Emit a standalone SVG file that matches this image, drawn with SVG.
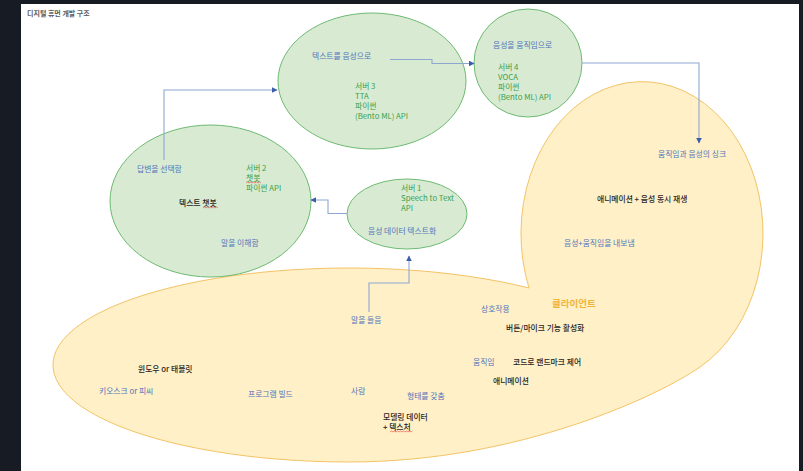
<svg xmlns="http://www.w3.org/2000/svg" width="803" height="471" viewBox="0 0 803 471">
  <defs>
    <style>
      text { font-family: "Noto Sans CJK KR", "Noto Sans", "Liberation Sans", sans-serif; font-size: 7.8px; }
      .blue { fill: #5174b9; }
      .green { fill: #38a14a; }
      .black { fill: #1f1f1f; font-weight: 500; }
      .title { fill: #5a5a5a; font-weight: 700; font-size: 7px; }
      .client { fill: #f0b43a; font-weight: 700; font-size: 9.5px; }
      .gnode { fill: #d9ead3; stroke: #6dbb72; stroke-width: 1; }
      .onode { fill: #fff0c8; stroke: #f3c366; stroke-width: 1; }
      .conn { fill: none; stroke: #8ea6d2; stroke-width: 1.1; }
      .squig { fill: none; stroke: #e04040; stroke-width: 0.6; }
    </style>
    <marker id="arr" viewBox="0 0 10 10" refX="9" refY="5" markerWidth="6" markerHeight="6" markerUnits="userSpaceOnUse" orient="auto">
      <path d="M0,0 L10,5 L0,10 z" fill="#3b5daa"/>
    </marker>
  </defs>

  <rect x="0" y="0" width="803" height="471" fill="#171b24"/>
  <rect x="21" y="4" width="778" height="467" fill="#ffffff"/>

  <text class="title" x="27" y="16">디지털 휴먼 개발 구조</text>

  <g id="client">
    <path class="onode" d="M529,288 A121,152 0 1 1 700,367 C660,395 520,462 349,462 A296,97 0 1 1 529,288 Z"/>
    <text class="blue" x="658" y="157">움직임과 음성의 싱크</text>
    <text class="black" x="597" y="202">애니메이션 + 음성 동시 재생</text>
    <text class="blue" x="564" y="246">음성+움직임을 내보냄</text>
    <text class="client" x="552" y="307">클라이언트</text>
    <text class="blue" x="481" y="312">상호작용</text>
    <text class="black" x="506" y="331">버튼/마이크 기능 활성화</text>
    <text class="blue" x="351" y="323">말을 들음</text>
    <text class="blue" x="473" y="365">움직임</text>
    <text class="black" x="513" y="365">코드로 랜드마크 제어</text>
    <text class="black" x="493" y="384">애니메이션</text>
    <text class="black" x="138" y="372">윈도우 or 태블릿</text>
    <text class="blue" x="99" y="394">키오스크 or 피씨</text>
    <text class="blue" x="248" y="397">프로그램 빌드</text>
    <text class="blue" x="351" y="394">사람</text>
    <text class="blue" x="407" y="399">형태를 갖춤</text>
    <text class="black" x="383" y="420">모델링 데이터</text>
    <text class="black" x="383" y="430">+ 텍스처</text>
    <path class="squig" d="M390,432 l1.5,-1 l1.5,1 l1.5,-1 l1.5,1 l1.5,-1 l1.5,1 l1.5,-1 l1.5,1 l1.5,-1 l1.5,1 l1.5,-1 l1.5,1 l1.5,-1 l1.5,1 l1.5,-1"/>
  </g>

  <g id="server3">
    <ellipse class="gnode" cx="372" cy="81" rx="94" ry="68"/>
    <text class="blue" x="312" y="59">텍스트를 음성으로</text>
    <text class="green" x="355" y="89">서버 3</text>
    <text class="green" x="355" y="99">TTA</text>
    <text class="green" x="355" y="109">파이썬</text>
    <text class="green" x="355" y="119">(Bento ML) API</text>
  </g>

  <g id="server4">
    <ellipse class="gnode" cx="528" cy="63" rx="54" ry="54"/>
    <text class="blue" x="493" y="48">음성을 움직임으로</text>
    <text class="green" x="498" y="70">서버 4</text>
    <text class="green" x="498" y="80">VOCA</text>
    <text class="green" x="498" y="90">파이썬</text>
    <text class="green" x="498" y="100">(Bento ML) API</text>
  </g>

  <g id="server2">
    <ellipse class="gnode" cx="210.5" cy="201" rx="100.5" ry="76"/>
    <text class="blue" x="137" y="172">답변을 선택함</text>
    <text class="green" x="246" y="171">서버 2</text>
    <text class="green" x="246" y="181">챗봇</text>
    <text class="green" x="246" y="191">파이썬 API</text>
    <text class="black" x="179" y="206">텍스트 챗봇</text>
    <text class="blue" x="221" y="246">말을 이해함</text>
    <path class="squig" d="M246,183 l1.5,-1 l1.5,1 l1.5,-1 l1.5,1 l1.5,-1 l1.5,1 l1.5,-1 l1.5,1 l1.5,-1 l1.5,1"/>
    <path class="squig" d="M203,208 l1.5,-1 l1.5,1 l1.5,-1 l1.5,1 l1.5,-1 l1.5,1 l1.5,-1 l1.5,1 l1.5,-1 l1.5,1"/>
  </g>

  <g id="server1">
    <ellipse class="gnode" cx="407" cy="214" rx="60" ry="35"/>
    <text class="green" x="401" y="191">서버 1</text>
    <text class="green" x="401" y="201">Speech to Text</text>
    <text class="green" x="401" y="211">API</text>
    <text class="blue" x="368" y="234">음성 데이터 텍스트화</text>
  </g>

  <g id="connectors">
    <path class="conn" d="M164,160 V90 H277" marker-end="url(#arr)"/>
    <path class="conn" d="M390,59.5 H432 V63.5 H474" marker-end="url(#arr)"/>
    <path class="conn" d="M582,63 H699 V143" marker-end="url(#arr)"/>
    <path class="conn" d="M347,213.5 H328 V200 H311" marker-end="url(#arr)"/>
    <path class="conn" d="M369,312 V283 H409 V256" marker-end="url(#arr)"/>
  </g>
</svg>
